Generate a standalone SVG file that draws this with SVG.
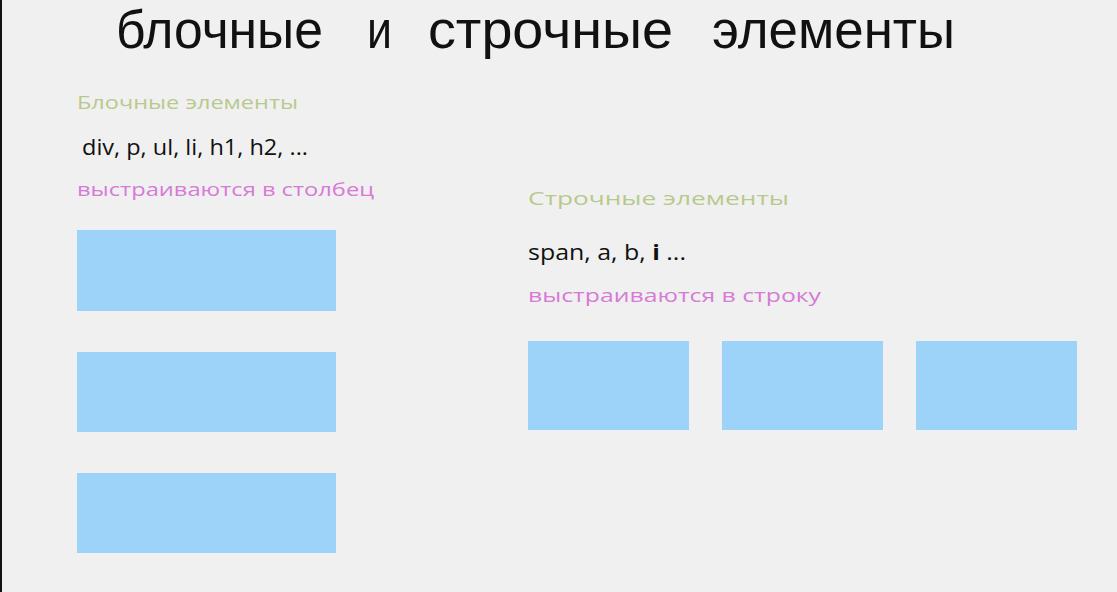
<svg xmlns="http://www.w3.org/2000/svg" width="1117" height="592" viewBox="0 0 1117 592">
<style>
.box{fill:#9dd3f8;}
.title{font-family:"Liberation Sans",Arial,sans-serif;font-size:54px;fill:#111;}
.head{font-family:"Open Sans","Noto Sans",sans-serif;font-size:19px;fill:#b8c98e;}
.code{font-family:"Open Sans","Noto Sans",sans-serif;font-size:21px;fill:#111;}
.note{font-family:"Open Sans","Noto Sans",sans-serif;font-size:19px;fill:#d77ad8;}
</style>
<rect x="0" y="0" width="1117" height="592" fill="#f0f0f0"/>
<rect x="0" y="0" width="2" height="592" fill="#111"/>
<g id="title">
<text class="title" x="116" y="48" textLength="207" lengthAdjust="spacingAndGlyphs">блочные</text>
<text class="title" x="367" y="48" textLength="25" lengthAdjust="spacingAndGlyphs">и</text>
<text class="title" x="428" y="48" textLength="245" lengthAdjust="spacingAndGlyphs">строчные</text>
<text class="title" x="712" y="48" textLength="243" lengthAdjust="spacingAndGlyphs">элементы</text>
</g>
<g id="block-texts">
<text class="head" x="77" y="109" textLength="221" lengthAdjust="spacingAndGlyphs">Блочные элементы</text>
<text class="code" x="82" y="155" textLength="226" lengthAdjust="spacingAndGlyphs">div, p, ul, li, h1, h2, ...</text>
<text class="note" x="77" y="196" textLength="297" lengthAdjust="spacingAndGlyphs">выстраиваются в столбец</text>
</g>
<g id="inline-texts">
<text class="head" x="528" y="205" textLength="261" lengthAdjust="spacingAndGlyphs">Строчные элементы</text>
<text class="code" x="528" y="260" textLength="158" lengthAdjust="spacingAndGlyphs">span, a, b, <tspan font-weight="bold">i</tspan> ...</text>
<text class="note" x="528" y="302" textLength="293" lengthAdjust="spacingAndGlyphs">выстраиваются в строку</text>
</g>
<g id="block1"><rect class="box" x="77" y="230" width="259" height="81"/></g>
<g id="block2"><rect class="box" x="77" y="352" width="259" height="80"/></g>
<g id="block3"><rect class="box" x="77" y="473" width="259" height="80"/></g>
<g id="inline1"><rect class="box" x="528" y="341" width="161" height="89"/></g>
<g id="inline2"><rect class="box" x="722" y="341" width="161" height="89"/></g>
<g id="inline3"><rect class="box" x="916" y="341" width="161" height="89"/></g>
<g id="connectors"></g>
</svg>
